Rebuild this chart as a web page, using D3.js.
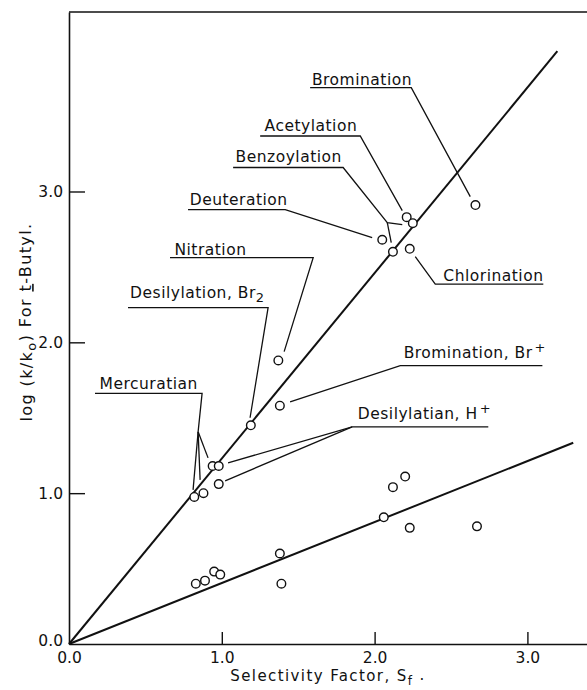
<!DOCTYPE html>
<html>
<head>
<meta charset="utf-8">
<script src="https://cdn.jsdelivr.net/npm/d3@7"></script>
<style>
  body { margin: 0; background: #fff; }
  svg { display: block; font-family: "DejaVu Sans", sans-serif; }
</style>
</head>
<body>
<svg id="chart" width="587" height="690"></svg>
<script>
// selectivity factor Sf and log(k/ko) for t-butyl
// upper set of points (on / near the steep line)
const upperSf  = [0.82, 0.88, 0.94, 0.98, 0.98, 1.19, 1.37, 1.38, 2.05, 2.12, 2.21, 2.25, 2.23, 2.66];
const upperLog = [0.975, 1.00, 1.18, 1.18, 1.06, 1.45, 1.88, 1.58, 2.68, 2.60, 2.83, 2.79, 2.62, 2.91];

// lower set of points (around the flat line)
const lowerSf  = [0.83, 0.89, 0.95, 0.99, 1.38, 1.39, 2.12, 2.20, 2.06, 2.23, 2.67];
const lowerLog = [0.40, 0.42, 0.48, 0.46, 0.60, 0.40, 1.04, 1.11, 0.84, 0.77, 0.78];

// the two straight lines through the origin
const upperLine = [[0, 0], [3.196, 3.93]];
const lowerLine = [[0, 0], [3.30, 1.334]];

const xTicks = [0, 1, 2, 3];
const yTicks = [0, 1, 2, 3];

// reaction names (sub / sup parts split out)
const reactionNames = [
    [{ t: "Bromination" }],
    [{ t: "Acetylation" }],
    [{ t: "Benzoylation" }],
    [{ t: "Deuteration" }],
    [{ t: "Nitration" }],
    [{ t: "Desilylation, Br" }, { t: "2", sub: true }],
    [{ t: "Mercuratian" }],
    [{ t: "Chlorination" }],
    [{ t: "Bromination, Br" }, { t: "+", sup: true }],
    [{ t: "Desilylatian, H" }, { t: "+", sup: true }]
];

// where each name sits and its underline + leader lines, in data units
const labelLayout = [
    { tx: 1.59, ty: 3.709, paths: [[[1.578, 3.689], [2.240, 3.689], [2.626, 2.966]]] },
    { tx: 1.28, ty: 3.404, paths: [[[1.251, 3.368], [1.906, 3.368], [2.181, 2.873]]] },
    { tx: 1.09, ty: 3.198, paths: [[[1.074, 3.159], [1.794, 3.159], [2.083, 2.794], [2.181, 2.780]],
                                   [[2.083, 2.794], [2.109, 2.661]]] },
    { tx: 0.79, ty: 2.910, paths: [[[0.779, 2.880], [1.415, 2.880], [1.984, 2.694]]] },
    { tx: 0.69, ty: 2.581, paths: [[[0.661, 2.561], [1.598, 2.561], [1.408, 1.938]]] },
    { tx: 0.40, ty: 2.296, paths: [[[0.386, 2.230], [1.303, 2.230], [1.185, 1.500]]] },
    { tx: 0.20, ty: 1.692, paths: [[[0.170, 1.662], [0.871, 1.662], [0.845, 1.407]],
                                   [[0.845, 1.407], [0.812, 1.022]],
                                   [[0.845, 1.407], [0.858, 1.088]],
                                   [[0.845, 1.407], [0.910, 1.234]]] },
    { tx: 2.45, ty: 2.409, paths: [[[3.104, 2.386], [2.397, 2.386], [2.266, 2.568]]] },
    { tx: 2.19, ty: 1.894, paths: [[[3.098, 1.845], [2.168, 1.845], [1.447, 1.606]]] },
    { tx: 1.89, ty: 1.490, paths: [[[2.744, 1.440], [1.853, 1.440], [1.041, 1.201]],
                                   [[1.853, 1.440], [1.022, 1.082]]] }
];

//------------------
// scales

const svg = d3.select("#chart");

const x = d3.scaleLinear().domain([0, 3.39]).range([69, 587]);
const y = d3.scaleLinear().domain([0, 4.19]).range([644, 12]);

const ink = "#111";

//------------------
// axes

const xAxis = d3.axisBottom(x)
    .tickValues(xTicks)
    .tickSizeInner(-12)
    .tickSizeOuter(0)
    .tickPadding(8)
    .tickFormat(d3.format(".1f"));

const yAxis = d3.axisLeft(y)
    .tickValues(yTicks)
    .tickSizeInner(-16)
    .tickSizeOuter(0)
    .tickPadding(6)
    .tickFormat(d3.format(".1f"));

const gx = svg.append("g")
    .attr("transform", `translate(0, ${y(0)})`)
    .call(xAxis);

const gy = svg.append("g")
    .attr("transform", `translate(${x(0)}, 0)`)
    .call(yAxis);

// style both axes the same
[gx, gy].forEach(g => {
    g.attr("font-family", null).attr("font-size", null);
    g.select(".domain").attr("stroke", ink).attr("stroke-width", 1.6);
    g.selectAll(".tick line").attr("stroke", ink).attr("stroke-width", 1.4);
    g.selectAll(".tick text").attr("fill", ink).style("font-size", "15.5px");
});

// no tick mark at the corner
gx.selectAll(".tick").filter(d => d === 0).select("line").remove();
gy.selectAll(".tick").filter(d => d === 0).select("line").remove();
gy.selectAll(".tick").filter(d => d === 0).select("text").attr("dy", "0.1em");

// top border of the frame
svg.append("line")
    .attr("x1", x(0)).attr("x2", x(3.39))
    .attr("y1", y(4.19)).attr("y2", y(4.19))
    .attr("stroke", ink)
    .attr("stroke-width", 1.6);

//------------------
// fitted lines

const line = d3.line().x(d => x(d[0])).y(d => y(d[1]));

svg.selectAll("path.fit")
    .data([upperLine, lowerLine])
    .join("path")
    .attr("class", "fit")
    .attr("d", line)
    .attr("fill", "none")
    .attr("stroke", ink)
    .attr("stroke-width", 2);

//------------------
// leader lines and names

labelLayout.forEach((lab, i) => {
    svg.selectAll(null)
        .data(lab.paths)
        .join("path")
        .attr("d", line)
        .attr("fill", "none")
        .attr("stroke", ink)
        .attr("stroke-width", 1.3);

    const txt = svg.append("text")
        .attr("x", x(lab.tx))
        .attr("y", y(lab.ty))
        .attr("fill", ink)
        .style("font-size", "15.5px")
        .style("letter-spacing", "0.5px");

    reactionNames[i].forEach(part => {
        if (part.sub) {
            txt.append("tspan").attr("dy", "0.3em").style("font-size", "13px").text(part.t);
        } else if (part.sup) {
            txt.append("tspan").attr("dy", "-0.5em").attr("dx", "2").style("font-size", "13px").text(part.t);
        } else {
            txt.append("tspan").text(part.t);
        }
    });
});

//------------------
// data points (open circles)

const points = upperSf.map((s, i) => [s, upperLog[i]])
    .concat(lowerSf.map((s, i) => [s, lowerLog[i]]));

svg.selectAll("circle.pt")
    .data(points)
    .join("circle")
    .attr("class", "pt")
    .attr("cx", d => x(d[0]))
    .attr("cy", d => y(d[1]))
    .attr("r", 4.3)
    .attr("fill", "#fff")
    .attr("stroke", ink)
    .attr("stroke-width", 1.4);

//------------------
// axis titles

const xTitle = svg.append("text")
    .attr("x", 328)
    .attr("y", 681)
    .attr("text-anchor", "middle")
    .attr("fill", ink)
    .style("font-size", "15px")
    .style("letter-spacing", "1.4px");
xTitle.append("tspan").text("Selectivity  Factor, S");
xTitle.append("tspan").attr("dy", "0.3em").style("font-size", "12px").text("f");
xTitle.append("tspan").attr("dy", "-0.3em").text(" .");

const yTitle = svg.append("text")
    .attr("transform", "translate(32, 322) rotate(-90)")
    .attr("text-anchor", "middle")
    .attr("fill", ink)
    .style("font-size", "16px")
    .style("letter-spacing", "1.4px");
yTitle.append("tspan").text("log (k/k");
yTitle.append("tspan").attr("dy", "0.3em").style("font-size", "13px").text("o");
yTitle.append("tspan").attr("dy", "-0.3em").text(")  For ");
yTitle.append("tspan").style("text-decoration", "underline").text("t");
yTitle.append("tspan").text("-Butyl.");
</script>
</body>
</html>
